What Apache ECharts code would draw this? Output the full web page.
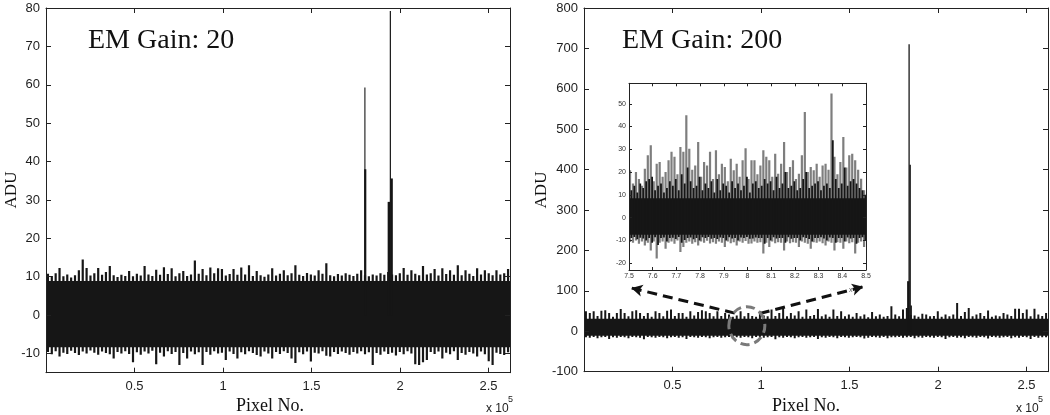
<!DOCTYPE html>
<html><head><meta charset="utf-8">
<script src="https://cdn.jsdelivr.net/npm/echarts@6/dist/echarts.min.js"></script>
<style>html,body{margin:0;padding:0;background:#fff}#c{width:1050px;height:415px}</style>
</head><body><div id="c"></div>
<script>
// ---------- axis ranges & tick labels ----------
const pixelRange = [0, 262144];
const mainXTicks = [50000, 100000, 150000, 200000, 250000];
const leftYRange = [-15, 80];
const leftYTicks = [-10, 0, 10, 20, 30, 40, 50, 60, 70, 80];
const rightYRange = [-100, 800];
const rightYTicks = [-100, 0, 100, 200, 300, 400, 500, 600, 700, 800];
const insetXRange = [75000, 85000];
const insetXTicks = [75000, 76000, 77000, 78000, 79000, 80000, 81000, 82000, 83000, 84000, 85000];
const insetYRange = [-23, 59];
const insetYTicks = [-20, -10, 0, 10, 20, 30, 40, 50];

// ---------- EM gain 20 : noise envelope per bin (120 bins over all pixels) ----------
const gain20Hi = [
 10.8,10.2,10.9,12.3,10.1,10.6,9.8,10.4,11.7,14.5,
 12.3,10.3,10.9,12.3,10.5,11.2,12.8,10.4,9.9,10.5,
 10.2,11.5,10.1,10.8,10.3,12.8,10.6,10.2,11.8,10.5,
 12.5,10.7,12.2,10.1,10.9,11.5,10.2,10.6,14.2,10.8,
 12.0,10.4,12.4,10.9,12.2,12.0,10.3,10.7,12.0,10.5,
 12.4,10.6,13.0,10.2,11.5,10.4,10.0,10.6,12.2,10.3,
 10.8,11.7,10.4,10.9,13.0,10.5,10.2,11.0,10.6,10.3,
 11.7,10.8,13.5,10.4,10.1,10.7,10.3,10.9,10.5,10.2,
 10.8,11.7,10.4,10.1,10.6,10.3,10.9,10.5,11.2,10.6,
 10.4,10.9,12.3,10.5,11.7,10.8,10.4,12.8,10.6,10.9,
 12.0,10.3,12.2,10.7,11.7,10.5,13.0,10.4,11.7,10.8,
 10.2,12.2,10.6,11.7,10.9,10.4,11.7,10.6,10.9,12.0];
const gain20Lo = [
 -9.6,-10.2,-9.4,-10.8,-9.8,-10.1,-9.3,-9.9,-10.4,-9.5,
 -10.0,-9.2,-9.8,-10.3,-9.5,-9.9,-10.2,-11.3,-9.6,-10.0,
 -9.4,-10.1,-12.3,-9.7,-10.3,-9.5,-10.0,-9.3,-12.8,-9.8,
 -10.8,-9.4,-10.1,-9.6,-13.0,-9.9,-11.3,-9.5,-10.2,-9.7,
 -13.0,-9.6,-10.3,-9.4,-10.0,-9.8,-11.7,-9.5,-10.1,-11.3,
 -9.7,-10.2,-9.4,-9.9,-10.4,-10.8,-9.5,-10.0,-11.3,-9.6,
 -10.1,-9.4,-9.9,-11.3,-12.5,-9.7,-10.2,-9.5,-12.1,-9.8,
 -10.0,-9.4,-10.6,-10.8,-9.6,-10.1,-9.5,-9.9,-10.3,-9.6,
 -10.0,-9.4,-10.2,-9.7,-13.0,-9.9,-10.3,-9.5,-10.1,-9.8,
 -10.5,-9.6,-10.2,-9.4,-10.0,-12.8,-13.0,-12.3,-11.7,-9.6,
 -10.1,-9.5,-11.3,-9.8,-10.2,-9.4,-11.7,-9.9,-10.3,-9.6,
 -10.0,-10.8,-9.5,-10.2,-12.0,-13.0,-9.8,-10.1,-10.4,-9.7];
const gain20Core = [-8.4, 8.9];
const gain20SpikeX = [180170, 180350, 193700, 194550, 195270];
const gain20SpikeY = [59.3, 38, 29.5, 79.2, 35.6];

// ---------- EM gain 200 ----------
const gain200Hi = [
 49.5,45.5,49.5,38,51,52,45.5,36,45.5,55,
 45.5,37,49.5,52,45.5,38,45.5,36,49.5,45.5,
 37,51,53.7,38,45.5,45.5,36,49.5,39,47.5,
 52,49.5,45.5,37,49.5,38,45.5,41.3,36,39,
 49.5,37,45.5,38,36,49.5,39,37,53.7,38,
 45.5,57.9,37,45.5,39,49.5,36,53.7,38,40,
 55,37,41.3,36,53.7,38,49.5,37,41.3,36,
 45.5,37,41.3,35,47.5,37,41.3,36,38,62,
 41.3,37,53.7,57.9,40,39,36,43.4,41.3,37,
 38,49.5,36,41.3,37,41.3,70,38,47.5,57.9,
 37,41.3,45.5,38,51.6,36,39,37,45.5,41.3,
 38,55.8,55.8,45.5,53.7,37,55.8,41.3,38,45.5];
const gain200Lo = [
 -15,-16,-14,-17,-15,-14,-19,-15,-16,-14,
 -15,-17,-14,-15,-16,-20,-14,-15,-16,-14,
 -15,-17,-15,-14,-16,-15,-19,-14,-15,-16,
 -14,-15,-17,-15,-14,-16,-15,-14,-19,-15,
 -16,-14,-15,-17,-14,-15,-16,-15,-14,-20,
 -15,-16,-14,-15,-17,-15,-14,-16,-15,-14,
 -19,-15,-16,-14,-15,-17,-14,-15,-16,-15,
 -14,-15,-18,-16,-14,-15,-16,-14,-17,-15,
 -15,-14,-16,-15,-14,-17,-15,-16,-14,-15,
 -16,-14,-15,-19,-15,-14,-16,-15,-17,-14,
 -15,-16,-14,-15,-18,-14,-15,-16,-15,-14,
 -17,-15,-16,-14,-15,-19,-14,-16,-15,-15];
const gain200Core = [-11, 31];
const gain200SpikeX = [183220, 183670, 184240, 184800];
const gain200SpikeY = [124, 710, 412, 64];

// ---------- inset (pixels 75000-85000, 80 bins) ----------
const insetHi = [
 20.8,15,20,17,14,21.5,27.4,31.8,16,23.7,
 24.4,18,20,25.2,28.9,26.7,19,31,28.9,45,
 30.3,21,22.9,33.2,18,24.4,22.9,28.9,17,29.6,
 19,23.7,22.2,16,25.9,20.8,23.7,18,25.2,30.5,
 17,25.2,25.2,19,22.9,29.6,26.7,25.2,18,28.1,
 19.3,23.7,33.2,20,22.2,25.2,17,19.3,27.4,46.4,
 20,22.2,20.8,23.7,18,22.9,23.7,21,54.5,26.7,
 19,24.4,35.4,22,27.4,28.1,25.2,21,17.1,12];
const insetBlackHi = [
 12,14,11,15,13,16,17,18,12,14,
 15,11,13,16,14,17,12,19,15,22,
 16,13,14,18,12,15,13,16,11,17,
 12,15,14,11,16,13,15,12,14,18,
 11,15,16,13,14,17,15,16,12,18,
 13,15,20,13,14,16,12,13,17,20,
 13,14,15,16,12,14,15,13,34,17,
 13,15,22,14,16,17,15,13,12,10];
const insetLo = [
 -10.7,-11,-10,-11.5,-10.5,-12.2,-11,-14.4,-10.5,-18,
 -11,-10.5,-13.7,-11,-10.5,-11.5,-10,-15.1,-12.9,-11,
 -10.5,-11.5,-10.8,-12.2,-10.5,-11,-10.2,-11.4,-10.8,-11.5,
 -10.5,-11,-12.9,-10.5,-11.2,-10.8,-12.2,-10.5,-11,-10.3,
 -11.5,-11.4,-10.5,-11,-10.8,-15.8,-11,-12.9,-10.5,-11.2,
 -10.8,-11,-14.4,-10.5,-11.3,-10.8,-11,-12.9,-10.5,-11,
 -11.5,-13.7,-10.8,-11,-10.5,-11.2,-12.2,-10.5,-11,-14.4,
 -10.8,-11,-13.7,-10.5,-11.2,-10.8,-15.8,-11,-10.5,-12.9];
const insetBlackLo = [
 -9,-8.5,-9.5,-8.8,-9.2,-10,-9,-11,-8.6,-12,
 -9,-8.7,-10.5,-9,-8.8,-9.4,-8.5,-11,-9.8,-9,
 -8.7,-9.5,-8.9,-10,-8.6,-9,-8.5,-9.3,-9,-9.4,
 -8.7,-9,-10,-8.6,-9.2,-8.9,-10,-8.7,-9,-8.5,
 -9.3,-9.2,-8.7,-9,-8.9,-11.5,-9,-10,-8.6,-9.2,
 -8.9,-9,-11,-8.6,-9.3,-8.9,-9,-10,-8.6,-9,
 -9.4,-10.5,-8.9,-9,-8.6,-9.2,-10,-8.7,-9,-11,
 -8.9,-9,-10.5,-8.7,-9.2,-8.9,-11.5,-9,-8.6,-10];
const insetCore = [-7.5, 8.5];

// annotation anchors (data coords in the EM gain 200 panel)
const zoomCircleAt = [92000, 14];
const arrowLeft = [[85200, 45], [26800, 107]];
const arrowRight = [[99300, 44], [157700, 110]];

// ---------- helpers ----------
const INK = '#161616';
function binData(range, hi, lo, extraHi, extraLo) {
  const w = (range[1] - range[0]) / hi.length;
  return hi.map((v, i) => {
    const row = [range[0] + (i + 0.5) * w, v, lo[i]];
    if (extraHi) row.push(extraHi[i], extraLo[i]);
    return row;
  });
}
// solid core band of the noise, one rectangle per panel
function coreSeries(axisIdx, range, core, z) {
  return {
    type: 'custom', xAxisIndex: axisIdx, yAxisIndex: axisIdx, z: z, silent: true, clip: true,
    data: [[range[0], core[1], range[1], core[0]]],
    renderItem: (params, api) => {
      const a = api.coord([api.value(0), api.value(1)]);
      const b = api.coord([api.value(2), api.value(3)]);
      return { type: 'rect', shape: { x: a[0], y: a[1], width: b[0] - a[0], height: b[1] - a[1] }, style: { fill: INK } };
    }
  };
}
function bandSeries(axisIdx, range, hi, lo, lw, z) {
  return {
    type: 'custom', xAxisIndex: axisIdx, yAxisIndex: axisIdx, z: z, silent: true, clip: true,
    data: binData(range, hi, lo),
    renderItem: (params, api) => {
      const xc = api.value(0);
      const t = api.coord([xc, api.value(1)]);
      const u = api.coord([xc, api.value(2)]);
      return { type: 'line', shape: { x1: t[0], y1: t[1], x2: u[0], y2: u[1] }, style: { stroke: INK, lineWidth: lw } };
    }
  };
}
function spikeSeries(axisIdx, xs, ys, widths, z) {
  return {
    type: 'custom', xAxisIndex: axisIdx, yAxisIndex: axisIdx, z: z, silent: true,
    data: xs.map((x, i) => [x, ys[i], i]),
    renderItem: (params, api) => {
      const p = api.coord([api.value(0), api.value(1)]);
      const q = api.coord([api.value(0), 0]);
      return { type: 'line', shape: { x1: p[0], y1: p[1], x2: q[0], y2: q[1] },
        style: { stroke: INK, lineWidth: widths[api.value(2)] } };
    }
  };
}
function insetGreySeries(z) {
  const w = (insetXRange[1] - insetXRange[0]) / insetHi.length;
  return {
    type: 'custom', xAxisIndex: 4, yAxisIndex: 4, z: z, silent: true, clip: true,
    data: binData(insetXRange, insetHi, insetLo),
    renderItem: (params, api) => {
      const xc = api.value(0) - w * 0.15;
      const g1 = api.coord([xc, api.value(1)]), g2 = api.coord([xc, api.value(2)]);
      return { type: 'line', shape: { x1: g1[0], y1: g1[1], x2: g2[0], y2: g2[1] }, style: { stroke: '#7e7e7e', lineWidth: 2.2 } };
    }
  };
}
function insetBlackSeries(z) {
  const w = (insetXRange[1] - insetXRange[0]) / insetHi.length;
  return {
    type: 'custom', xAxisIndex: 4, yAxisIndex: 4, z: z, silent: true, clip: true,
    data: binData(insetXRange, insetBlackHi, insetBlackLo),
    renderItem: (params, api) => {
      const xc = api.value(0) + w * 0.3;
      const k1 = api.coord([xc, api.value(1)]), k2 = api.coord([xc, api.value(2)]);
      return { type: 'line', shape: { x1: k1[0], y1: k1[1], x2: k2[0], y2: k2[1] }, style: { stroke: INK, lineWidth: 1.8 } };
    }
  };
}
const tickFont = { fontFamily: 'Liberation Sans', fontSize: 13, color: '#1e1e1e' };
function xAxes(gridIndex, range, ticks, fmt, labelStyle, tickLen, z) {
  return [
    { type: 'value', gridIndex, min: range[0], max: range[1], position: 'bottom', z,
      axisLine: { show: true, onZero: false, lineStyle: { color: '#222', width: 1 } },
      axisTick: { show: true, inside: true, length: tickLen, customValues: ticks, lineStyle: { color: '#222' } },
      axisLabel: Object.assign({ customValues: ticks, formatter: fmt }, labelStyle),
      splitLine: { show: false } },
    { type: 'value', gridIndex, min: range[0], max: range[1], position: 'top', z,
      axisLine: { show: true, onZero: false, lineStyle: { color: '#222', width: 1 } },
      axisTick: { show: true, inside: true, length: tickLen, customValues: ticks, lineStyle: { color: '#222' } },
      axisLabel: { show: false }, splitLine: { show: false } }
  ];
}
function yAxes(gridIndex, range, ticks, labelStyle, tickLen, z) {
  return [
    { type: 'value', gridIndex, min: range[0], max: range[1], position: 'left', z,
      axisLine: { show: true, onZero: false, lineStyle: { color: '#222', width: 1 } },
      axisTick: { show: true, inside: true, length: tickLen, customValues: ticks, lineStyle: { color: '#222' } },
      axisLabel: Object.assign({ customValues: ticks }, labelStyle),
      splitLine: { show: false } },
    { type: 'value', gridIndex, min: range[0], max: range[1], position: 'right', z,
      axisLine: { show: true, onZero: false, lineStyle: { color: '#222', width: 1 } },
      axisTick: { show: true, inside: true, length: tickLen, customValues: ticks, lineStyle: { color: '#222' } },
      axisLabel: { show: false }, splitLine: { show: false } }
  ];
}
const fmtMain = v => String(v / 1e5);
const fmtInset = v => String(parseFloat((v / 1e4).toFixed(1)));

const chart = echarts.init(document.getElementById('c'), null, { renderer: 'canvas' });
const insetLabel = { fontFamily: 'Liberation Sans', fontSize: 7, color: '#333', margin: 3 };

const option = {
  animation: false,
  backgroundColor: '#fff',
  grid: [
    { left: 46, top: 8, width: 464, height: 364.7 },
    { left: 584, top: 8, width: 464, height: 363.7 },
    { left: 629, top: 83.3, width: 237, height: 186.7, show: true, backgroundColor: '#fff', borderWidth: 0, z: 5 }
  ],
  xAxis: [
    ...xAxes(0, pixelRange, mainXTicks, fmtMain, Object.assign({ margin: 7 }, tickFont), 5, 3),
    ...xAxes(1, pixelRange, mainXTicks, fmtMain, Object.assign({ margin: 7 }, tickFont), 5, 3),
    ...xAxes(2, insetXRange, insetXTicks, fmtInset, insetLabel, 3, 8)
  ],
  yAxis: [
    ...yAxes(0, leftYRange, leftYTicks, Object.assign({ margin: 6 }, tickFont), 5, 3),
    ...yAxes(1, rightYRange, rightYTicks, Object.assign({ margin: 6 }, tickFont), 5, 3),
    ...yAxes(2, insetYRange, insetYTicks, insetLabel, 3, 8)
  ],
  series: [
    bandSeries(0, pixelRange, gain20Hi, gain20Lo, 2.2, 2),
    coreSeries(0, pixelRange, gain20Core, 2),
    spikeSeries(0, gain20SpikeX, gain20SpikeY, [1.1, 2.2, 2.4, 1.2, 2.4], 2),
    bandSeries(2, pixelRange, gain200Hi, gain200Lo, 2.0, 2),
    coreSeries(2, pixelRange, gain200Core, 2),
    spikeSeries(2, gain200SpikeX, gain200SpikeY, [2.4, 1.3, 1.5, 1.6], 2),
    insetGreySeries(7),
    coreSeries(4, insetXRange, insetCore, 7),
    insetBlackSeries(7),
    { type: 'line', xAxisIndex: 2, yAxisIndex: 2, data: [], silent: true, z: 4,
      markLine: { silent: true, symbol: ['none', 'arrow'], symbolSize: [9, 11], animation: false,
        label: { show: false },
        lineStyle: { type: [10, 6], width: 3, color: '#111' },
        data: [
          [{ coord: arrowLeft[0] }, { coord: arrowLeft[1] }],
          [{ coord: arrowRight[0] }, { coord: arrowRight[1] }]
        ] } }
  ]
};
chart.setOption(option);

const c = chart.convertToPixel({ xAxisIndex: 2, yAxisIndex: 2 }, zoomCircleAt);
const serif = 'Liberation Serif';
chart.setOption({ graphic: [
  { type: 'ellipse', z: 20, silent: true, shape: { cx: c[0], cy: c[1], rx: 18, ry: 19 },
    style: { fill: 'none', stroke: '#7a7a7a', lineWidth: 3, lineDash: [9, 5] } },
  { type: 'text', z: 20, x: 88, y: 40.5, style: { text: 'EM Gain: 20', font: '28px ' + serif, fill: '#111', verticalAlign: 'middle' } },
  { type: 'text', z: 20, x: 622, y: 40.5, style: { text: 'EM Gain: 200', font: '28px ' + serif, fill: '#111', verticalAlign: 'middle' } },
  { type: 'text', z: 20, x: 12, y: 190, rotation: Math.PI / 2, style: { text: 'ADU', font: '17px ' + serif, fill: '#111', align: 'center', verticalAlign: 'middle' } },
  { type: 'text', z: 20, x: 542, y: 190, rotation: Math.PI / 2, style: { text: 'ADU', font: '17px ' + serif, fill: '#111', align: 'center', verticalAlign: 'middle' } },
  { type: 'text', z: 20, x: 270, y: 406, style: { text: 'Pixel No.', font: '18px ' + serif, fill: '#111', align: 'center', verticalAlign: 'middle' } },
  { type: 'text', z: 20, x: 806, y: 406, style: { text: 'Pixel No.', font: '18px ' + serif, fill: '#111', align: 'center', verticalAlign: 'middle' } },
  { type: 'text', z: 20, x: 486, y: 409, style: { text: 'x 10', font: '12px Liberation Sans', fill: '#222', verticalAlign: 'middle' } },
  { type: 'text', z: 20, x: 508, y: 400, style: { text: '5', font: '9px Liberation Sans', fill: '#222', verticalAlign: 'middle' } },
  { type: 'text', z: 20, x: 1016, y: 409, style: { text: 'x 10', font: '12px Liberation Sans', fill: '#222', verticalAlign: 'middle' } },
  { type: 'text', z: 20, x: 1038, y: 400, style: { text: '5', font: '9px Liberation Sans', fill: '#222', verticalAlign: 'middle' } },
  { type: 'text', z: 3, x: 849, y: 290, style: { text: 'x', font: '7px Liberation Sans', fill: '#555', verticalAlign: 'middle' } }
] });
</script>
</body></html>
